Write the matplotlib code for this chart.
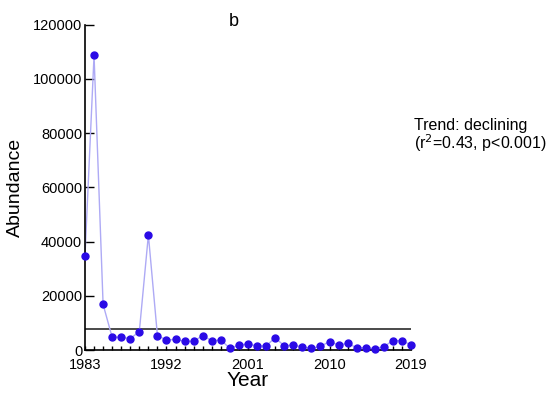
import matplotlib
matplotlib.use("Agg")
import matplotlib.pyplot as plt
from matplotlib.ticker import MultipleLocator

plt.rcParams['font.family'] = ['Liberation Sans', 'DejaVu Sans']

# abundance per year
years = list(range(1983, 2020))
abundance = [34700, 108600, 16800, 4700, 4700, 4200, 6800, 42400, 5300, 3700,
             3900, 3200, 3200, 5300, 3400, 3700, 600, 1850, 2200, 1500,
             1500, 4550, 1500, 1850, 1100, 600, 1350, 3100, 1850, 2450,
             850, 850, 500, 1250, 3450, 3450, 1850]
threshold = 7800
xticks = [1983, 1992, 2001, 2010, 2019]
yticks = [0, 20000, 40000, 60000, 80000, 100000, 120000]

fig = plt.figure(figsize=(5.58, 3.98), dpi=100)
ax = fig.add_axes([0.1523, 0.1206, 0.5843, 0.8178])

ax.plot(years, abundance, color='#aeaaf5', lw=1, zorder=2)
ax.plot(years, abundance, 'o', color='#2a0ae6', ms=5, zorder=3, clip_on=False)
ax.axhline(threshold, color='#4a4a4a', lw=1.4, zorder=1)

ax.set_xlim(1983, 2019)
ax.set_ylim(0, 120000)
ax.set_xticks(xticks)
ax.xaxis.set_minor_locator(MultipleLocator(1))
ax.set_yticks(yticks)

for s in ['top', 'right']:
    ax.spines[s].set_visible(False)
for s in ['left', 'bottom']:
    ax.spines[s].set_linewidth(1.2)

ax.tick_params(axis='y', direction='in', length=6.5, width=1, pad=2, labelsize=10.5)
ax.tick_params(axis='x', which='both', direction='in', length=3, width=1, pad=5.5, labelsize=10.5)

ax.set_ylabel('Abundance', fontsize=14)
ax.yaxis.set_label_coords(-0.187, 0.5)
ax.set_xlabel('Year', fontsize=15)
ax.xaxis.set_label_coords(0.5, -0.065)

fig.text(234 / 558, 1 - 21 / 398, 'b', fontsize=13, ha='center', va='center')
fig.text(414 / 558, 1 - 130 / 398, 'Trend: declining', fontsize=11.5, ha='left', va='baseline')
fig.text(414 / 558, 1 - 149 / 398, r'(r$^2$=0.43, p<0.001)', fontsize=11.5, ha='left', va='baseline')

fig.savefig('out.png', dpi=100)
